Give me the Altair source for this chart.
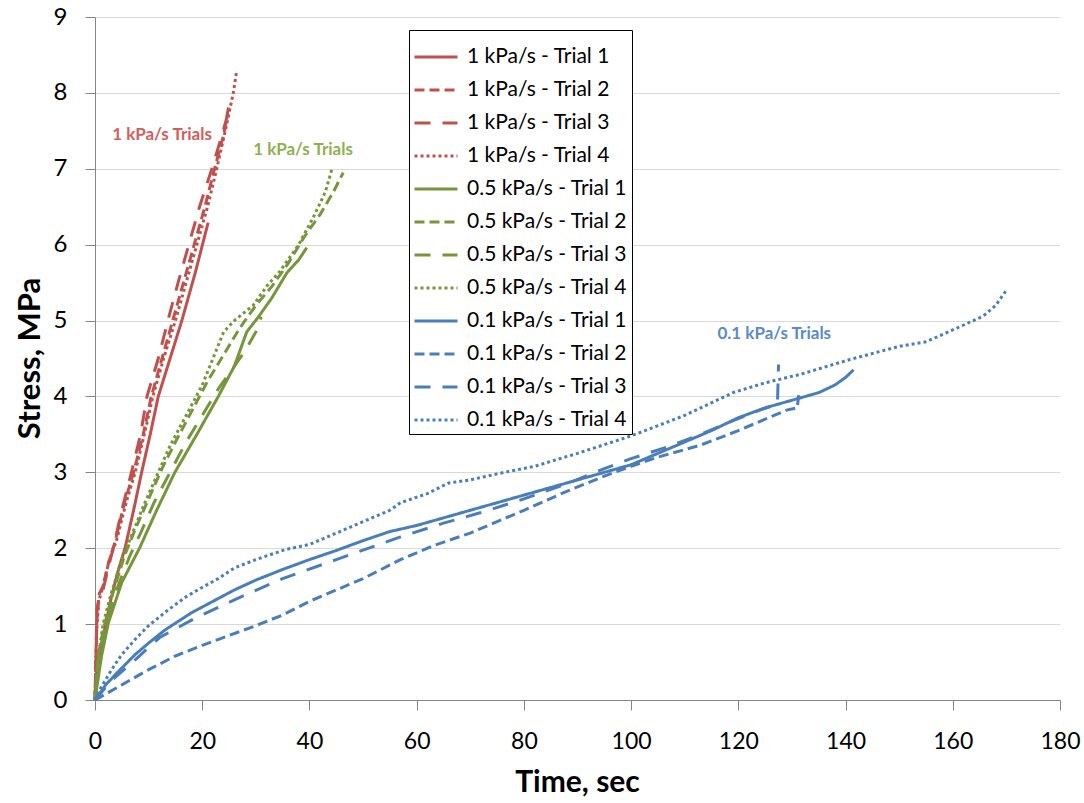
import altair as alt
import pandas as pd

# ---------------- data ----------------
r1_t = [0, 0.4, 1.25, 2, 3.1, 4.3, 5.6, 7.2, 8.7, 10.3, 11.8, 14, 16.2, 18.7, 21.1]
r1_s = [0, 0.4, 0.67, 1.0, 1.37, 1.7, 2.0, 2.5, 3.0, 3.5, 4.0, 4.5, 5.0, 5.63, 6.29]
r2_t = [0, 0.3, 0.8, 1.5, 2.5, 3.8, 5.5, 7.2, 9, 10.5, 12.5, 14.5, 16.5, 18.5, 20.5, 22.3, 24, 25]
r2_s = [0, 1.0, 1.4, 1.5, 1.8, 2.1, 2.6, 3.0, 3.5, 4.0, 4.5, 5.0, 5.5, 6.0, 6.5, 7.0, 7.45, 7.85]
r3_t = [0, 0.4, 0.8, 1.5, 2.5, 3.4, 5, 6.8, 8.5, 9.7, 11.8, 13.6, 15.5, 17.5, 19.5, 21.8, 23.5, 24.9]
r3_s = [0, 1.2, 1.4, 1.45, 1.75, 2.0, 2.5, 3.0, 3.5, 4.0, 4.5, 5.0, 5.5, 6.0, 6.5, 7.0, 7.4, 7.75]
r4_t = [0, 0.3, 0.7, 1.5, 2.7, 4, 5.8, 7.5, 9.2, 10.8, 12.8, 15, 17, 19, 21, 22.7, 24.3, 25.8, 26.4]
r4_s = [0, 0.9, 1.3, 1.5, 1.85, 2.1, 2.6, 3.0, 3.5, 4.0, 4.5, 5.0, 5.5, 6.0, 6.5, 7.0, 7.5, 8.0, 8.28]

g1_t = [0, 1.2, 2.5, 5, 8.3, 11.5, 14.9, 19, 23, 26, 28.3, 30.5, 33, 35.8, 38, 39.5]
g1_s = [0, 0.57, 1.02, 1.55, 2.0, 2.5, 3.0, 3.5, 4.0, 4.4, 4.85, 5.05, 5.3, 5.63, 5.8, 5.96]
g2_t = [0, 0.6, 1.8, 3.5, 5.5, 7.5, 10, 12.5, 15, 18, 21, 24, 27, 30, 33, 36, 39, 42, 44.5, 46.3]
g2_s = [0, 0.6, 1.0, 1.45, 1.9, 2.25, 2.65, 3.05, 3.4, 3.8, 4.2, 4.55, 4.9, 5.2, 5.45, 5.75, 6.1, 6.4, 6.7, 6.95]
g3_t = [0, 0.7, 2, 4, 6.5, 8.5, 11, 14, 17, 20, 23, 26, 28, 30, 31]
g3_s = [0, 0.6, 1.0, 1.45, 1.9, 2.2, 2.6, 3.0, 3.4, 3.75, 4.1, 4.4, 4.6, 4.85, 5.05]
g4_t = [0, 0.5, 1.5, 3, 5, 7, 9, 11.5, 14, 17, 20, 22, 24, 26, 29.5, 32, 34.5, 38, 41, 43, 44.2]
g4_s = [0, 0.5, 1.0, 1.4, 1.85, 2.2, 2.55, 2.95, 3.35, 3.75, 4.15, 4.5, 4.85, 5.0, 5.2, 5.45, 5.65, 6.0, 6.4, 6.7, 7.0]

b1_t = [0, 2, 4, 7.5, 10, 13, 18, 22, 26, 30, 35, 40, 45, 50, 55, 60, 65, 70, 75, 80, 85, 90, 95,
        100, 105, 110, 115, 120, 125, 130, 135, 138, 140, 141.5]
b1_s = [0, 0.2, 0.35, 0.6, 0.75, 0.92, 1.15, 1.3, 1.45, 1.58, 1.72, 1.85, 1.97, 2.1, 2.22, 2.3, 2.4,
        2.5, 2.6, 2.7, 2.8, 2.9, 3.0, 3.1, 3.25, 3.4, 3.55, 3.72, 3.85, 3.95, 4.05, 4.15, 4.25, 4.35]
b2_t = [0, 5, 10, 15, 20, 25, 30, 35, 40, 45, 50, 57, 63, 70, 75, 80, 88, 95, 100, 105, 113, 120,
        125, 129, 131, 131.3]
b2_s = [0, 0.2, 0.4, 0.58, 0.72, 0.85, 0.98, 1.12, 1.3, 1.45, 1.6, 1.85, 2.03, 2.2, 2.35, 2.5, 2.75,
        2.95, 3.08, 3.2, 3.36, 3.55, 3.7, 3.82, 3.85, 4.05]
b3_t = [0, 3, 7.5, 12, 18.7, 26, 35, 45, 57, 65, 72, 80, 88, 95, 100, 107, 113, 119, 124, 127.3, 127.5]
b3_s = [0, 0.25, 0.53, 0.82, 1.08, 1.32, 1.6, 1.85, 2.15, 2.33, 2.47, 2.65, 2.85, 3.05, 3.18, 3.34,
        3.5, 3.68, 3.82, 3.9, 4.42]
b4_t = [0, 1, 3.1, 5, 7.5, 10, 13.7, 17, 19.9, 23, 26, 30, 35.4, 40, 45.7, 50, 55, 57, 62, 66, 70, 75,
        82, 90, 100, 110, 119, 125, 131.5, 141, 150, 155, 159.5, 165.7, 168, 170.1]
b4_s = [0, 0.15, 0.4, 0.6, 0.8, 0.98, 1.19, 1.36, 1.48, 1.6, 1.74, 1.85, 1.98, 2.05, 2.22, 2.35, 2.5,
        2.6, 2.72, 2.86, 2.9, 2.98, 3.08, 3.25, 3.48, 3.75, 4.05, 4.18, 4.29, 4.49, 4.66, 4.72, 4.86,
        5.06, 5.2, 5.41]

series_names = [
    "1 kPa/s - Trial 1", "1 kPa/s - Trial 2", "1 kPa/s - Trial 3", "1 kPa/s - Trial 4",
    "0.5 kPa/s - Trial 1", "0.5 kPa/s - Trial 2", "0.5 kPa/s - Trial 3", "0.5 kPa/s - Trial 4",
    "0.1 kPa/s - Trial 1", "0.1 kPa/s - Trial 2", "0.1 kPa/s - Trial 3", "0.1 kPa/s - Trial 4",
]
series_t = [r1_t, r2_t, r3_t, r4_t, g1_t, g2_t, g3_t, g4_t, b1_t, b2_t, b3_t, b4_t]
series_s = [r1_s, r2_s, r3_s, r4_s, g1_s, g2_s, g3_s, g4_s, b1_s, b2_s, b3_s, b4_s]

RED, GREEN, BLUE = "#C0504D", "#77963C", "#4A7EBB"
series_colors = [RED] * 4 + [GREEN] * 4 + [BLUE] * 4
dash_styles = [[1, 0], [10, 5], [16, 12], [3, 3]] * 3

ann_text = ["1 kPa/s Trials", "1 kPa/s Trials", "0.1 kPa/s Trials"]
ann_t = [12.5, 38.8, 126.7]
ann_s = [7.45, 7.25, 4.82]
ann_color = ["#D0605C", "#8FB050", "#5A8ACB"]

# ---------------- build table ----------------
rows = []
for name, ts, ss in zip(series_names, series_t, series_s):
    for i, (t, s) in enumerate(zip(ts, ss)):
        rows.append({"series": name, "t": t, "s": s, "i": i})
df = pd.DataFrame(rows)
ann_df = pd.DataFrame({"text": ann_text, "t": ann_t, "s": ann_s, "c": ann_color})

FONT = "Lato"

x_enc = alt.X("t:Q", scale=alt.Scale(domain=[0, 180], nice=False),
              axis=alt.Axis(values=list(range(0, 181, 20)), grid=False, title="Time, sec",
                            format="d", tickSize=10, labelPadding=20, labelFontSize=23,
                            labelFont=FONT, labelColor="#000000", titleFont=FONT,
                            titleFontSize=30, titleFontWeight="bold", titleColor="#000000",
                            titleX=482, titleY=82, titleBaseline="middle",
                            domainColor="#868686", tickColor="#868686", labelFlush=False))
y_enc = alt.Y("s:Q", scale=alt.Scale(domain=[0, 9], nice=False),
              axis=alt.Axis(values=list(range(0, 10)), grid=True, gridColor="#D9D9D9",
                            format="d", title="Stress, MPa", tickSize=10, labelPadding=18,
                            labelFontSize=24, labelFont=FONT, labelColor="#000000",
                            titleFont=FONT, titleFontSize=31, titleFontWeight="bold",
                            titleColor="#000000", titleAngle=270, titleX=-65, titleY=341,
                            titleBaseline="middle", titleAlign="center",
                            domainColor="#868686", tickColor="#868686"))

leg = dict(title=None, orient="none", legendX=314, legendY=13, symbolType="stroke",
           symbolSize=1849, symbolStrokeWidth=3, labelFontSize=21, labelFont=FONT,
           labelColor="#000000", rowPadding=0, padding=4, strokeColor="#000000",
           fillColor="#FFFFFF", labelOffset=8, labelLimit=300)

lines = alt.Chart(df).mark_line(strokeWidth=3, strokeCap="butt").encode(
    x=x_enc,
    y=y_enc,
    order="i:Q",
    color=alt.Color("series:N", sort=series_names,
                    scale=alt.Scale(domain=series_names, range=series_colors),
                    legend=alt.Legend(**leg)),
    strokeDash=alt.StrokeDash("series:N", sort=series_names,
                              scale=alt.Scale(domain=series_names, range=dash_styles),
                              legend=alt.Legend(**leg)),
)

labels = alt.Chart(ann_df).mark_text(font=FONT, fontSize=17, fontWeight="bold",
                                     align="center", baseline="middle").encode(
    x="t:Q", y="s:Q", text="text:N",
    color=alt.Color("c:N", scale=None, legend=None),
)

chart = alt.layer(lines, labels).properties(
    width=965, height=683,
    autosize=alt.AutoSizeParams(type="none"),
    padding={"left": 95, "top": 17, "right": 24, "bottom": 103},
    background="#FFFFFF",
).configure_view(strokeWidth=0)

chart.save("out.html", embed_options={"renderer": "svg", "actions": False})
